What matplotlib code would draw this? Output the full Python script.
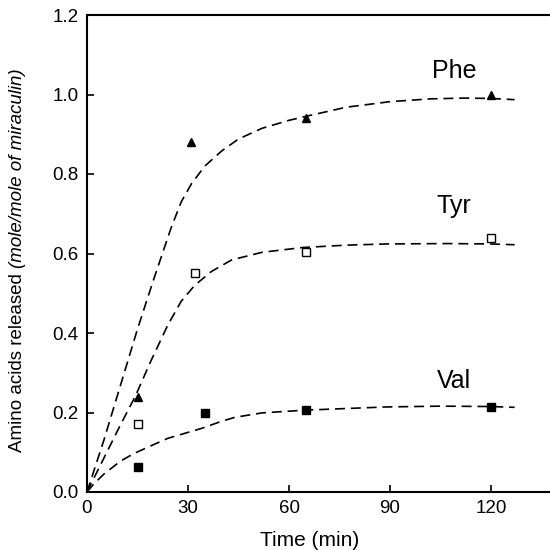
import matplotlib.pyplot as plt

# measured points
time_pts = [15, 31, 65, 120]
phe_pts = [0.24, 0.88, 0.94, 1.00]
tyr_time = [15, 32, 65, 120]
tyr_pts = [0.17, 0.55, 0.605, 0.64]
val_time = [15, 35, 65, 120]
val_pts = [0.063, 0.20, 0.206, 0.213]

# fitted curves
phe_fit_t = [0, 5, 10, 15, 20, 25, 28, 31, 35, 40, 45, 52, 60, 65, 77, 90, 102, 112, 120, 127]
phe_fit_y = [0, 0.13, 0.27, 0.41, 0.54, 0.665, 0.73, 0.775, 0.82, 0.858, 0.888, 0.915,
             0.935, 0.945, 0.968, 0.982, 0.989, 0.991, 0.99, 0.987]
tyr_fit_t = [0, 5, 10, 14.3, 19, 24, 28, 32, 37, 43, 52, 64, 77, 89, 107, 120, 127]
tyr_fit_y = [0, 0.085, 0.17, 0.24, 0.33, 0.42, 0.48, 0.52, 0.555, 0.584, 0.603,
             0.615, 0.621, 0.624, 0.625, 0.624, 0.622]
val_fit_t = [0, 2, 5, 10, 14, 20, 24, 30, 34, 40, 44, 52, 65, 77, 89, 105, 120, 127]
val_fit_y = [0, 0.02, 0.045, 0.078, 0.097, 0.12, 0.135, 0.15, 0.16, 0.178, 0.188,
             0.199, 0.206, 0.21, 0.214, 0.216, 0.215, 0.213]

plt.rcParams['font.family'] = ['Liberation Sans', 'DejaVu Sans']

fig = plt.figure(figsize=(5.5, 5.5), dpi=100)
W = 550.0
ax = fig.add_axes([87 / W, 58 / W, (556 - 87) / W, 477 / W])

dash = (0, (6, 3.5))
ax.plot(phe_fit_t, phe_fit_y, color='black', lw=1.2, linestyle=dash)
ax.plot(tyr_fit_t, tyr_fit_y, color='black', lw=1.2, linestyle=dash)
ax.plot(val_fit_t, val_fit_y, color='black', lw=1.2, linestyle=dash)

ax.plot(time_pts, phe_pts, '^', color='black', ms=6, ls='none')
ax.plot(tyr_time, tyr_pts, 's', mfc='white', mec='black', mew=1.0, ms=5.5, ls='none')
ax.plot(val_time, val_pts, 's', color='black', ms=5.5, ls='none')

ax.text(109, 1.06, 'Phe', fontsize=18, ha='center', va='center')
ax.text(109, 0.72, 'Tyr', fontsize=18, ha='center', va='center')
ax.text(109, 0.28, 'Val', fontsize=18, ha='center', va='center')

ax.set_xlim(0, (556 - 87) * 30 / 101)
ax.set_ylim(0, 1.2)
ax.set_xticks([0, 30, 60, 90, 120])
ax.set_yticks([0.0, 0.2, 0.4, 0.6, 0.8, 1.0, 1.2])
ax.set_yticklabels(['0.0', '0.2', '0.4', '0.6', '0.8', '1.0', '1.2'])
ax.tick_params(direction='in', length=5, width=1.2, labelsize=13.5, pad=6)
for s in ax.spines.values():
    s.set_linewidth(1.5)

fig.text(310 / W, 1 - 540 / W, 'Time (min)', fontsize=15, ha='center', va='center')

# y label: plain part + italic part
t1 = fig.text(17 / W, 1 - 452 / W, 'Amino acids released ', fontsize=13.5,
              rotation=90, rotation_mode='anchor', ha='left', va='center')
fig.canvas.draw()
bb = t1.get_window_extent()
top = bb.y1 / fig.bbox.height
fig.text(17 / W, top, '(mole/mole of miraculin)', fontsize=13.5, style='italic',
         rotation=90, rotation_mode='anchor', ha='left', va='center')

fig.savefig('out.png', dpi=100)
